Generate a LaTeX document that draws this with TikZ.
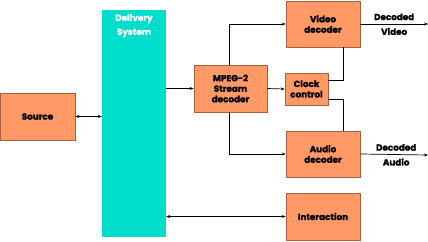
\documentclass[tikz,border=0pt]{standalone}
\usepackage{fontspec}
\setmainfont{Poppins}[BoldFeatures={FakeBold=1.6}]
\usetikzlibrary{arrows.meta,calc}

\definecolor{boxfill}{HTML}{FF9966}
\definecolor{boxline}{HTML}{A8603E}
\definecolor{dlvfill}{HTML}{00DDCB}

\tikzset{
  unit/.style={draw=boxline, fill=boxfill, line width=0.6pt, inner sep=0pt,
    align=center, font=\fontsize{8.8}{10.5}\selectfont\bfseries},
  wire/.style={line width=0.7pt},
  tip/.style={-{Stealth[length=4pt,width=3pt]}},
  tips/.style={{Stealth[length=4pt,width=3pt]}-{Stealth[length=4pt,width=3pt]}},
  outtxt/.style={font=\fontsize{8.8}{10.5}\selectfont\bfseries, inner sep=3.5pt}
}

\begin{document}
\begin{tikzpicture}[x=1pt,y=-1pt]
  \useasboundingbox (0,0) rectangle (428,241);

  % Blocs
  \node[unit, minimum width=75pt, minimum height=47pt] (src) at (37.5,116.5) {Source};
  \node[fill=dlvfill, minimum width=64pt, minimum height=227pt, inner sep=0pt] (dlv) at (134,123.5) {};
  \node[text=white, align=center, font=\fontsize{8.8}{14}\selectfont\bfseries, anchor=north]
    (dlvtxt) at ([yshift=-0.5pt]dlv.north) {Delivery\\System};
  \node[unit, minimum width=73pt, minimum height=47pt] (mpg) at (230.5,88.5) {MPEG-2\\Stream\\decoder};
  \node[unit, minimum width=74pt, minimum height=46pt] (vid) at (323,24) {Video\\decoder};
  \node[unit, minimum width=43pt, minimum height=32pt] (clk) at (306.5,89) {Clock\\control};
  \node[unit, minimum width=74pt, minimum height=46pt] (aud) at (323,154) {Audio\\decoder};
  \node[unit, minimum width=74pt, minimum height=47pt] (itr) at (323,216.5) {Interaction};

  % Sorties
  \coordinate (vout) at (428,24);
  \coordinate (aout) at (428,155);

  % Liaisons
  \draw[wire, tips] (src.east) -- (src.east -| dlv.west);
  \draw[wire, tip] (mpg.west -| dlv.east) -- (mpg.west);
  \draw[wire, tip] ([xshift=-1.5pt]mpg.north) |- (vid.west);
  \draw[wire, tip] (mpg.east) -- (clk.west);
  \draw[wire, tip] ([xshift=-1.5pt]mpg.south) |- (aud.west);
  \draw[wire] ([xshift=20pt]vid.south) |- ([yshift=9pt]clk.east);
  \draw[wire] ([yshift=-10pt]clk.east) -| ([xshift=20pt]aud.north);
  \draw[wire, tips] (itr.west -| dlv.east) -- (itr.west);
  \draw[wire, tip] (vid.east) -- (vout)
    node[outtxt, pos=0.5, above] {Decoded} node[outtxt, pos=0.5, below] {Video};
  \draw[wire, tip] (aud.east) -- (aout)
    node[outtxt, pos=0.53, above] {Decoded} node[outtxt, pos=0.53, below] {Audio};
\end{tikzpicture}
\end{document}
